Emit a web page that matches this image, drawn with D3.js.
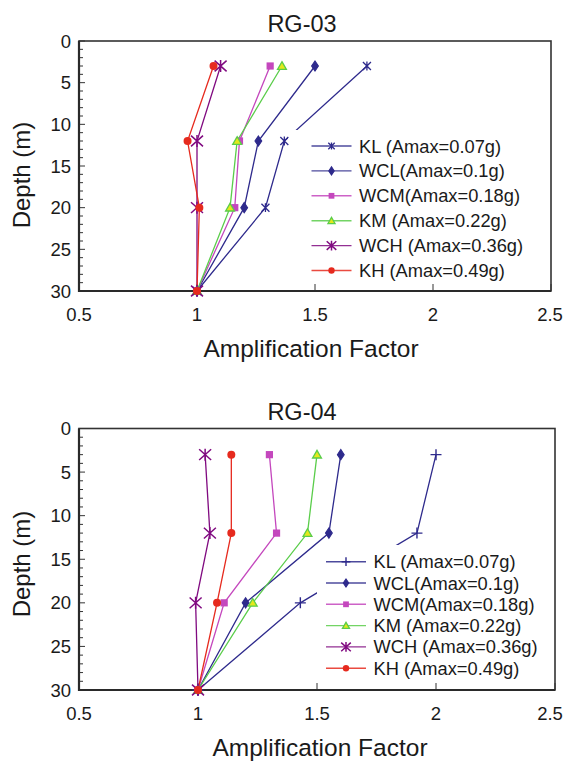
<!DOCTYPE html>
<html>
<head>
<meta charset="utf-8">
<script src="https://cdn.jsdelivr.net/npm/d3@7"></script>
<style>
  body { margin: 0; background: #fff; }
  svg { display: block; font-family: "Liberation Sans", Arial, Helvetica, sans-serif; }
</style>
</head>
<body>
<div id="viz"></div>
<script>
// depths where the amplification factor was computed
const depths = [3, 12, 20, 30];
const seriesNames = ["KL (Amax=0.07g)", "WCL(Amax=0.1g)", "WCM(Amax=0.18g)",
                     "KM (Amax=0.22g)", "WCH (Amax=0.36g)", "KH (Amax=0.49g)"];
const seriesKeys = ["KL", "WCL", "WCM", "KM", "WCH", "KH"];

// RG-03 values (same order as depths)
const rg03KL  = [1.72, 1.37, 1.29, 1.0];
const rg03WCL = [1.50, 1.26, 1.20, 1.0];
const rg03WCM = [1.31, 1.18, 1.16, 1.0];
const rg03KM  = [1.36, 1.17, 1.14, 1.0];
const rg03WCH = [1.10, 1.00, 1.00, 1.0];
const rg03KH  = [1.07, 0.96, 1.01, 1.0];

// RG-04 values
const rg04KL  = [2.00, 1.92, 1.43, 1.0];
const rg04WCL = [1.60, 1.55, 1.20, 1.0];
const rg04WCM = [1.30, 1.33, 1.11, 1.0];
const rg04KM  = [1.50, 1.46, 1.23, 1.0];
const rg04WCH = [1.03, 1.05, 0.99, 1.0];
const rg04KH  = [1.14, 1.14, 1.08, 1.0];

const xTicks = [0.5, 1, 1.5, 2, 2.5];
const yTicks = [0, 5, 10, 15, 20, 25, 30];

const width = 565, height = 761;

let svg = d3.select("#viz").append("svg")
  .attr("width", width)
  .attr("height", height);

// line colour + marker kind per series
let colours = { KL: "#2e2a8c", WCL: "#2e2a8c", WCM: "#c447bd", KM: "#5acd4a", WCH: "#800a80", KH: "#e62a1e" };

let drawMarker = function (g, kind, s) {
  let c = colours[kind.replace("KL2", "KL")];
  if (kind === "KL") {
    // small asterisk
    let r = 4 * s;
    g.append("path").attr("d", `M${-r},${-r}L${r},${r}M${-r},${r}L${r},${-r}M0,${-r * 1.1}L0,${r * 1.1}`)
      .attr("stroke", c).attr("stroke-width", 1.3).attr("fill", "none");
  } else if (kind === "KL2") {
    let r = 5.5 * s;
    g.append("path").attr("d", `M${-r},0L${r},0M0,${-r}L0,${r}`)
      .attr("stroke", c).attr("stroke-width", 1.4).attr("fill", "none");
  } else if (kind === "WCL") {
    g.append("path").attr("d", d3.symbol(d3.symbolDiamond, 30 * s * s)())
      .attr("transform", "scale(1.15,1)")
      .attr("fill", c).attr("stroke", c).attr("stroke-width", 1);
  } else if (kind === "WCM") {
    let r = 3.6 * s;
    g.append("rect").attr("x", -r).attr("y", -r).attr("width", 2 * r).attr("height", 2 * r)
      .attr("fill", c);
  } else if (kind === "KM") {
    g.append("path").attr("d", d3.symbol(d3.symbolTriangle, 34 * s * s)())
      .attr("transform", "translate(0,0.8)")
      .attr("fill", "#e4e81c").attr("stroke", c).attr("stroke-width", 1.3);
  } else if (kind === "WCH") {
    let r = 6 * s;
    g.append("path").attr("d", `M${-r},${-r * 0.9}L${r},${r * 0.9}M${-r},${r * 0.9}L${r},${-r * 0.9}M0,${-r}L0,${r}`)
      .attr("stroke", c).attr("stroke-width", 1.5).attr("fill", "none");
  } else if (kind === "KH") {
    g.append("circle").attr("r", 4 * s).attr("fill", c);
  }
};

let drawPanel = function (p) {
  let x = d3.scaleLinear().domain([0.5, 2.5]).range([p.left, p.right]);
  let y = d3.scaleLinear().domain([0, 30]).range([p.top, p.bottom]);
  let g = svg.append("g");

  // title
  g.append("text").attr("x", p.titleX).attr("y", p.titleY)
    .attr("text-anchor", "middle").attr("font-size", 23.5).attr("fill", "#1a1a1a")
    .text(p.title);

  // minor + major ticks on the depth axis, pointing inward
  g.append("g").selectAll("line").data(d3.range(0, 31))
    .join("line")
    .attr("x1", p.left).attr("x2", (d) => p.left + (d % 5 === 0 ? 6 : 4))
    .attr("y1", (d) => y(d)).attr("y2", (d) => y(d))
    .attr("stroke", "#333").attr("stroke-width", 1);

  // x ticks on the bottom, pointing up
  g.append("g").selectAll("line").data(xTicks)
    .join("line")
    .attr("x1", (d) => x(d)).attr("x2", (d) => x(d))
    .attr("y1", p.bottom).attr("y2", p.bottom - 7)
    .attr("stroke", "#333").attr("stroke-width", 1);

  // tick labels
  g.append("g").selectAll("text").data(yTicks)
    .join("text")
    .attr("x", p.left - 8).attr("y", (d) => y(d)).attr("dy", "0.36em")
    .attr("text-anchor", "end").attr("font-size", 18.5).attr("fill", "#1a1a1a")
    .text((d) => d);

  g.append("g").selectAll("text").data(xTicks)
    .join("text")
    .attr("x", (d) => Math.min(x(d), width - 15)).attr("y", p.bottom + 30)
    .attr("text-anchor", "middle").attr("font-size", 18.5).attr("fill", "#1a1a1a")
    .text((d) => d);

  // frame
  g.append("rect").attr("x", p.left).attr("y", p.top)
    .attr("width", p.right - p.left).attr("height", p.bottom - p.top)
    .attr("fill", "none").attr("stroke", "#333").attr("stroke-width", 1.6);
  g.append("path")
    .attr("d", `M${p.left},${p.top}L${p.left},${p.bottom}L${p.right},${p.bottom}`)
    .attr("fill", "none").attr("stroke", "#2a2a2a").attr("stroke-width", 2.2);

  // axis titles
  g.append("text").attr("x", p.xTitleX).attr("y", p.xTitleY)
    .attr("text-anchor", "middle").attr("font-size", 24.5).attr("fill", "#1a1a1a")
    .text("Amplification Factor");
  g.append("text")
    .attr("transform", `translate(${p.yTitleX},${p.yTitleY}) rotate(-90)`)
    .attr("text-anchor", "middle").attr("font-size", 24).attr("fill", "#1a1a1a")
    .text("Depth (m)");

  // series lines
  let line = d3.line().x((d) => x(d[0])).y((d) => y(d[1]));
  p.series.forEach(function (vals, i) {
    let pts = vals.map((v, j) => [v, depths[j]]);
    g.append("path").attr("d", line(pts))
      .attr("fill", "none").attr("stroke", colours[seriesKeys[i]])
      .attr("stroke-width", 1.3);
  });

  // legend background hides lines behind it
  g.append("rect").attr("x", p.legX).attr("y", p.legY)
    .attr("width", p.right - p.legX - 2).attr("height", p.bottom - p.legY - 8)
    .attr("fill", "#fff");

  // markers
  p.series.forEach(function (vals, i) {
    let kind = seriesKeys[i] === "KL" ? p.klMarker : seriesKeys[i];
    vals.forEach(function (v, j) {
      let m = g.append("g").attr("transform", `translate(${x(v)},${y(depths[j])})`);
      drawMarker(m, kind, 1);
    });
  });

  // legend entries
  seriesNames.forEach(function (name, i) {
    let cy = p.legRow0 + i * p.legStep;
    let key = seriesKeys[i];
    g.append("line").attr("x1", p.legLineX).attr("x2", p.legLineX + 40)
      .attr("y1", cy).attr("y2", cy)
      .attr("stroke", colours[key]).attr("stroke-width", 1.4).attr("stroke-opacity", 0.85);
    let m = g.append("g").attr("transform", `translate(${p.legLineX + 20},${cy})`);
    drawMarker(m, key === "KL" ? p.klMarker : key, 0.8);
    g.append("text").attr("x", p.legLineX + 47.5).attr("y", cy).attr("dy", "0.36em")
      .attr("font-size", 18.3).attr("fill", "#1a1a1a")
      .text(name);
  });
};

drawPanel({
  title: "RG-03", titleX: 302, titleY: 31.5,
  left: 79, right: 551, top: 41, bottom: 291,
  xTitleX: 311, xTitleY: 357, yTitleX: 30, yTitleY: 175,
  series: [rg03KL, rg03WCL, rg03WCM, rg03KM, rg03WCH, rg03KH],
  klMarker: "KL",
  legX: 288, legY: 130, legRow0: 146, legStep: 24.9, legLineX: 311.5
});

drawPanel({
  title: "RG-04", titleX: 302, titleY: 420,
  left: 79, right: 555, top: 428.5, bottom: 690,
  xTitleX: 320, xTitleY: 756, yTitleX: 30, yTitleY: 564,
  series: [rg04KL, rg04WCL, rg04WCM, rg04KM, rg04WCH, rg04KH],
  klMarker: "KL2",
  legX: 317, legY: 545, legRow0: 561.7, legStep: 21.3, legLineX: 326
});
</script>
</body>
</html>
